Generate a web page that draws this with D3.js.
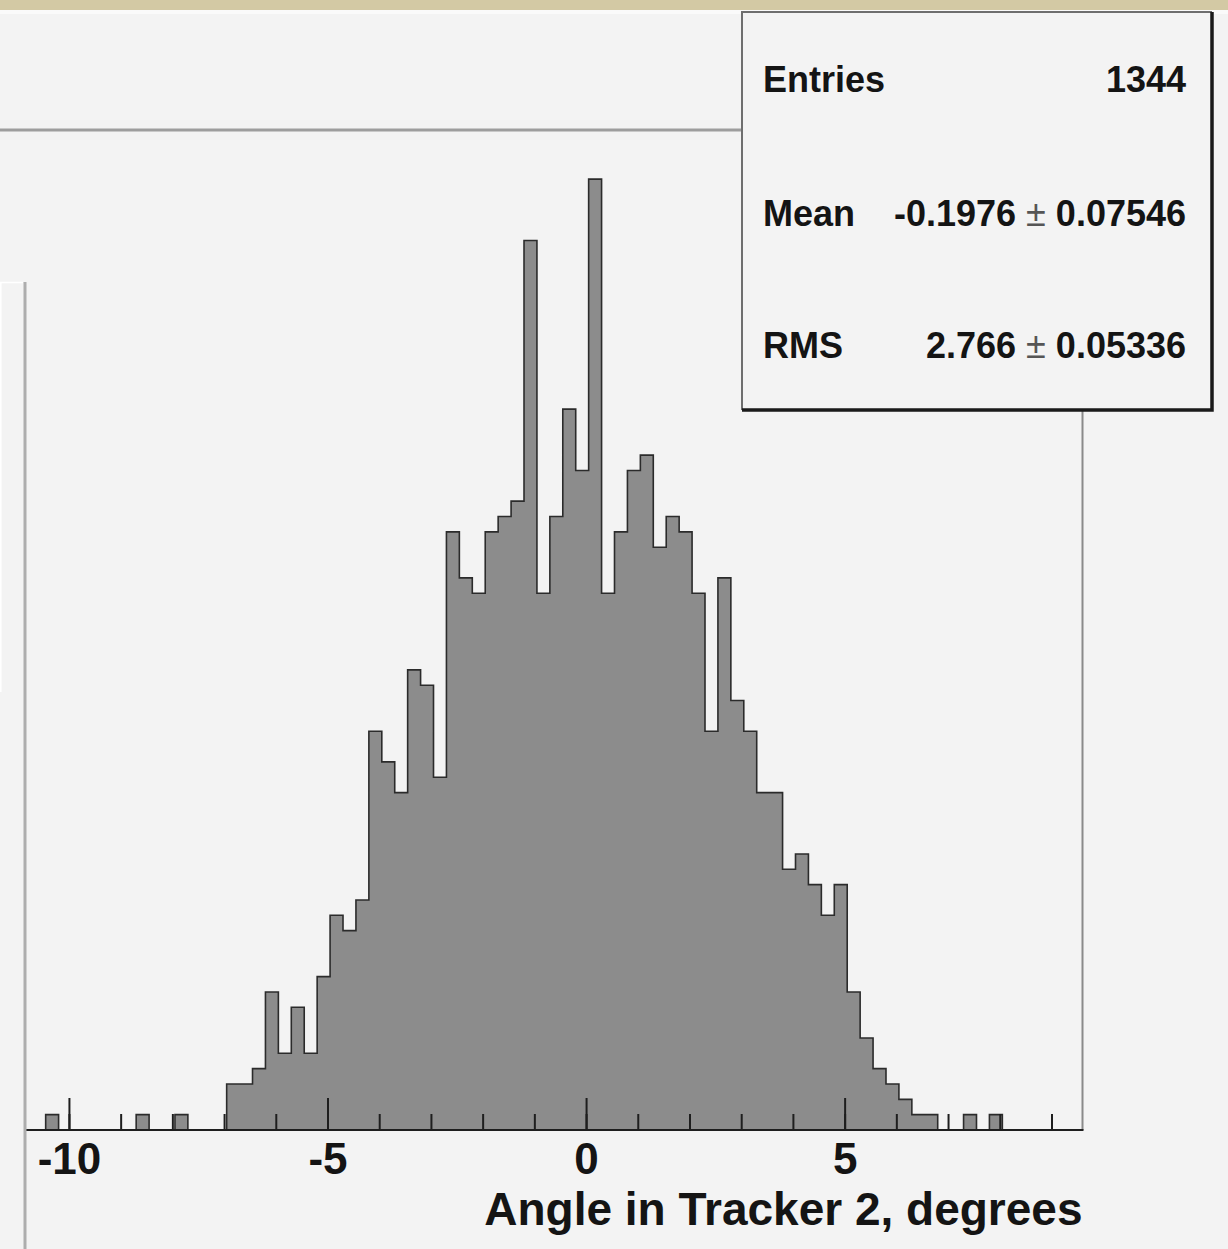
<!DOCTYPE html>
<html>
<head>
<meta charset="utf-8">
<script src="https://cdn.jsdelivr.net/npm/d3@7"></script>
<style>
  html, body { margin: 0; padding: 0; background: #f3f3f3; }
  svg { display: block; }
  text { font-family: "Liberation Sans", Arial, Helvetica, sans-serif; font-weight: bold; fill: #141414; }
</style>
</head>
<body>
<svg id="chart" width="1228" height="1249"></svg>
<script>
// Histogram: angle in tracker 2 (degrees), 82 bins of 0.25 starting at -10.95
const binStart = -10.95;
const binWidth = 0.25;
const counts = [
  0, 0, 1, 0, 0, 0, 0, 0, 0, 1, 0, 0, 1, 0, 0, 0,
  3, 3, 4, 9, 5, 8, 5, 10, 14, 13, 15, 26, 24, 22, 30, 29, 23,
  39, 36, 35, 39, 40, 41, 58, 35, 40, 47, 43, 62, 35, 39, 43, 44, 38, 40, 39, 35,
  26, 36, 28, 26, 22, 22, 17, 18, 16, 14, 16, 9, 6, 4, 3, 2, 1, 1, 0, 0, 1, 0, 1,
  0, 0, 0, 0, 0, 0
];
const xRange = [-10.84, 9.6];
const yMax = 65.2;
const majorTicks = [-10, -5, 0, 5];
const minorTicks = [-10, -9, -8, -7, -6, -5, -4, -3, -2, -1, 0, 1, 2, 3, 4, 5, 6, 7, 8, 9];
const axisTitle = "Angle in Tracker 2, degrees";
const statNames = ["Entries", "Mean", "RMS"];
const statValues = ["1344", "-0.1976", "2.766"];
const statErrors = [null, "0.07546", "0.05336"];

const svg = d3.select("#chart");
const W = 1228, H = 1249;
const frame = { left: 25.5, right: 1082.5, top: 130, bottom: 1130 };

const x = d3.scaleLinear().domain(xRange).range([frame.left, frame.right]);
const y = d3.scaleLinear().domain([0, yMax]).range([frame.bottom, frame.top]);

// canvas
svg.append("rect").attr("width", W).attr("height", H).attr("fill", "#f3f3f3");
svg.append("rect").attr("x", 0).attr("y", 0).attr("width", W).attr("height", 10).attr("fill", "#d3c9a4");
svg.append("rect").attr("x", 0).attr("y", 10).attr("width", W).attr("height", 4).attr("fill", "#fafafa");

// pad frame (top and right edges)
svg.append("line").attr("x1", 0).attr("x2", frame.right).attr("y1", frame.top).attr("y2", frame.top)
  .attr("stroke", "#9d9d9d").attr("stroke-width", 3);
svg.append("line").attr("x1", frame.right).attr("x2", frame.right).attr("y1", frame.top).attr("y2", frame.bottom)
  .attr("stroke", "#8a8a8a").attr("stroke-width", 2);

// histogram
const pts = counts.map((c, i) => ({ x: binStart + i * binWidth, c }));
pts.push({ x: binStart + counts.length * binWidth, c: 0 });

svg.append("clipPath").attr("id", "plotclip")
  .append("rect").attr("x", frame.left).attr("y", 0).attr("width", frame.right - frame.left).attr("height", frame.bottom + 2);

const area = d3.area().curve(d3.curveStepAfter)
  .x(d => x(d.x)).y0(y(0)).y1(d => y(d.c));
const outline = d3.line().curve(d3.curveStepAfter)
  .x(d => x(d.x)).y(d => y(d.c));

const hg = svg.append("g").attr("clip-path", "url(#plotclip)");
hg.append("path").datum(pts).attr("d", area).attr("fill", "#8c8c8c");
hg.append("path").datum(pts).attr("d", outline).attr("fill", "none")
  .attr("stroke", "#2b2b2b").attr("stroke-width", 1.6);

// x axis: minor ticks, major ticks with labels, axis line
const minorAxis = d3.axisBottom(x).tickValues(minorTicks).tickSizeInner(-16).tickSizeOuter(0).tickFormat("");
const majorAxis = d3.axisBottom(x).tickValues(majorTicks).tickSizeInner(-32).tickSizeOuter(0)
  .tickPadding(13).tickFormat(d => String(d));

const gMinor = svg.append("g").attr("transform", `translate(0,${frame.bottom})`).call(minorAxis);
const gMajor = svg.append("g").attr("transform", `translate(0,${frame.bottom})`).call(majorAxis);
[gMinor, gMajor].forEach(g => {
  g.select(".domain").remove();
  g.selectAll(".tick line").attr("stroke", "#1e1e1e").attr("stroke-width", 2);
});
gMajor.selectAll(".tick text")
  .attr("font-family", '"Liberation Sans", Arial, sans-serif')
  .attr("font-weight", "bold").attr("font-size", 44).attr("fill", "#141414");

svg.append("line").attr("x1", frame.left).attr("x2", frame.right + 1).attr("y1", frame.bottom).attr("y2", frame.bottom)
  .attr("stroke", "#1e1e1e").attr("stroke-width", 2.2);

svg.append("text").attr("x", frame.right).attr("y", 1225).attr("text-anchor", "end")
  .attr("font-size", 46).text(axisTitle);

// overlapping window edge on the left
svg.append("line").attr("x1", 25).attr("x2", 25).attr("y1", 282).attr("y2", H)
  .attr("stroke", "#adadad").attr("stroke-width", 3);
svg.append("path").attr("d", "M0.8,692 V282.5 H23")
  .attr("fill", "none").attr("stroke", "#ffffff").attr("stroke-width", 1.6);

// statistics box
const box = { x: 742, y: 12, w: 470, h: 398 };
const sb = svg.append("g");
sb.append("rect").attr("x", box.x).attr("y", box.y).attr("width", box.w).attr("height", box.h)
  .attr("fill", "#f3f3f3");
sb.append("path").attr("d", `M${box.x},${box.y + box.h} V${box.y} H${box.x + box.w}`)
  .attr("fill", "none").attr("stroke", "#6e6e6e").attr("stroke-width", 2);
sb.append("path").attr("d", `M${box.x + box.w},${box.y} V${box.y + box.h} H${box.x}`)
  .attr("fill", "none").attr("stroke", "#1a1a1a").attr("stroke-width", 3.5);

const rowY = [92, 226, 358];
statNames.forEach((name, i) => {
  sb.append("text").attr("x", 763).attr("y", rowY[i]).attr("font-size", 36).text(name);
  const t = sb.append("text").attr("x", 1186).attr("y", rowY[i]).attr("text-anchor", "end").attr("font-size", 36);
  t.append("tspan").text(statValues[i]);
  if (statErrors[i]) {
    t.append("tspan").attr("font-weight", "normal").attr("fill", "#555").text(" \u00B1 ");
    t.append("tspan").text(statErrors[i]);
  }
});
</script>
</body>
</html>
